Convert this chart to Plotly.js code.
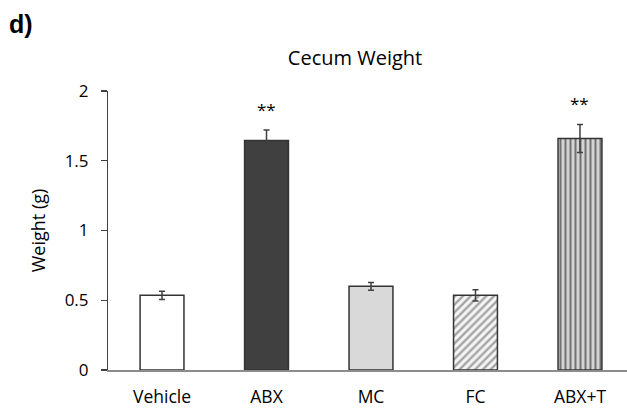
<!DOCTYPE html>
<html>
<head>
<meta charset="utf-8">
<script src="https://cdn.plot.ly/plotly-3.0.1.min.js"></script>
<style>html,body{margin:0;padding:0;background:#fff;}#chart{width:627px;height:409px;}</style>
</head>
<body>
<div id="chart"></div>
<script>
var categories = ["Vehicle", "ABX", "MC", "FC", "ABX+T"];
var weights = [0.535, 1.645, 0.60, 0.535, 1.66];
var errors = [0.03, 0.075, 0.028, 0.04, 0.10];
var significance = ["", "**", "", "", "**"];
var yTicks = [0, 0.5, 1, 1.5, 2];
var yTickText = ["0", "0.5", "1", "1.5", "2"];

var fnt = "'Open Sans', 'Noto Sans', sans-serif";

var fills = ["#ffffff", "#404040", "#d9d9d9", "#f6f6f6", "#d4d4d4"];
var patShape = ["", "", "", "/", "|"];
var patFg = ["#ffffff", "#404040", "#d9d9d9", "#a6a6a6", "#727272"];
var patSize = [8, 8, 8, 5.5, 5];
var patSolid = [0.3, 0.3, 0.3, 0.45, 0.4];

var traces = [];
for (var k = 0; k < categories.length; k++) {
  var mk = {color: fills[k], line: {color: "#333333", width: 1.5}};
  if (patShape[k]) {
    mk.pattern = {shape: patShape[k], fgcolor: patFg[k], bgcolor: fills[k], size: patSize[k], solidity: patSolid[k]};
  }
  traces.push({
    type: "bar", x: [categories[k]], y: [weights[k]], width: 0.42, marker: mk,
    error_y: {type: "data", array: [errors[k]], visible: true, color: "#404040", thickness: 1.5, width: 3},
    hoverinfo: "none"
  });
}

var annotations = [];
for (var i = 0; i < categories.length; i++) {
  if (significance[i]) {
    annotations.push({
      x: categories[i], y: weights[i] + errors[i] + 0.15, xref: "x", yref: "y",
      text: significance[i], showarrow: false, yanchor: "middle",
      font: {family: fnt, size: 17, color: "#000"}
    });
  }
}
annotations.push({
  xref: "paper", yref: "paper", x: (7 - 108) / 519, y: (370 - 24) / 279,
  xanchor: "left", yanchor: "middle", text: "<b>d)</b>", showarrow: false,
  font: {family: "Liberation Sans, Arial, sans-serif", size: 25, color: "#000"}
});

var layout = {
  width: 627, height: 409,
  margin: {l: 108, r: 0, t: 91, b: 39, pad: 0},
  paper_bgcolor: "#fff", plot_bgcolor: "#fff",
  showlegend: false, barmode: "overlay",
  title: {text: "Cecum Weight", x: 355 / 627, xanchor: "center", y: 1 - 58 / 409, yanchor: "middle",
          font: {family: fnt, size: 20, color: "#000"}},
  xaxis: {
    type: "category", categoryarray: categories, categoryorder: "array",
    range: [-0.517, 4.45], showline: true, linecolor: "#8c8c8c", linewidth: 1.5,
    ticks: "outside", ticklen: 10, tickcolor: "rgba(0,0,0,0)",
    showgrid: false, zeroline: false, fixedrange: true,
    tickfont: {family: fnt, size: 17.5, color: "#000"}
  },
  yaxis: {
    range: [0, 2], tickvals: yTicks,
    ticktext: yTickText.map(function (t) { return t + "\u00a0\u00a0"; }),
    showline: true, linecolor: "#404040", linewidth: 1.2,
    ticks: "outside", ticklen: 6, tickcolor: "#404040", tickwidth: 1.2,
    showgrid: false, zeroline: false, fixedrange: true,
    tickfont: {family: fnt, size: 17, color: "#000"},
    title: {text: "Weight (g)", standoff: 14, font: {family: fnt, size: 18, color: "#000"}}
  },
  annotations: annotations
};

Plotly.newPlot("chart", traces, layout, {displayModeBar: false, staticPlot: true});
</script>
</body>
</html>
